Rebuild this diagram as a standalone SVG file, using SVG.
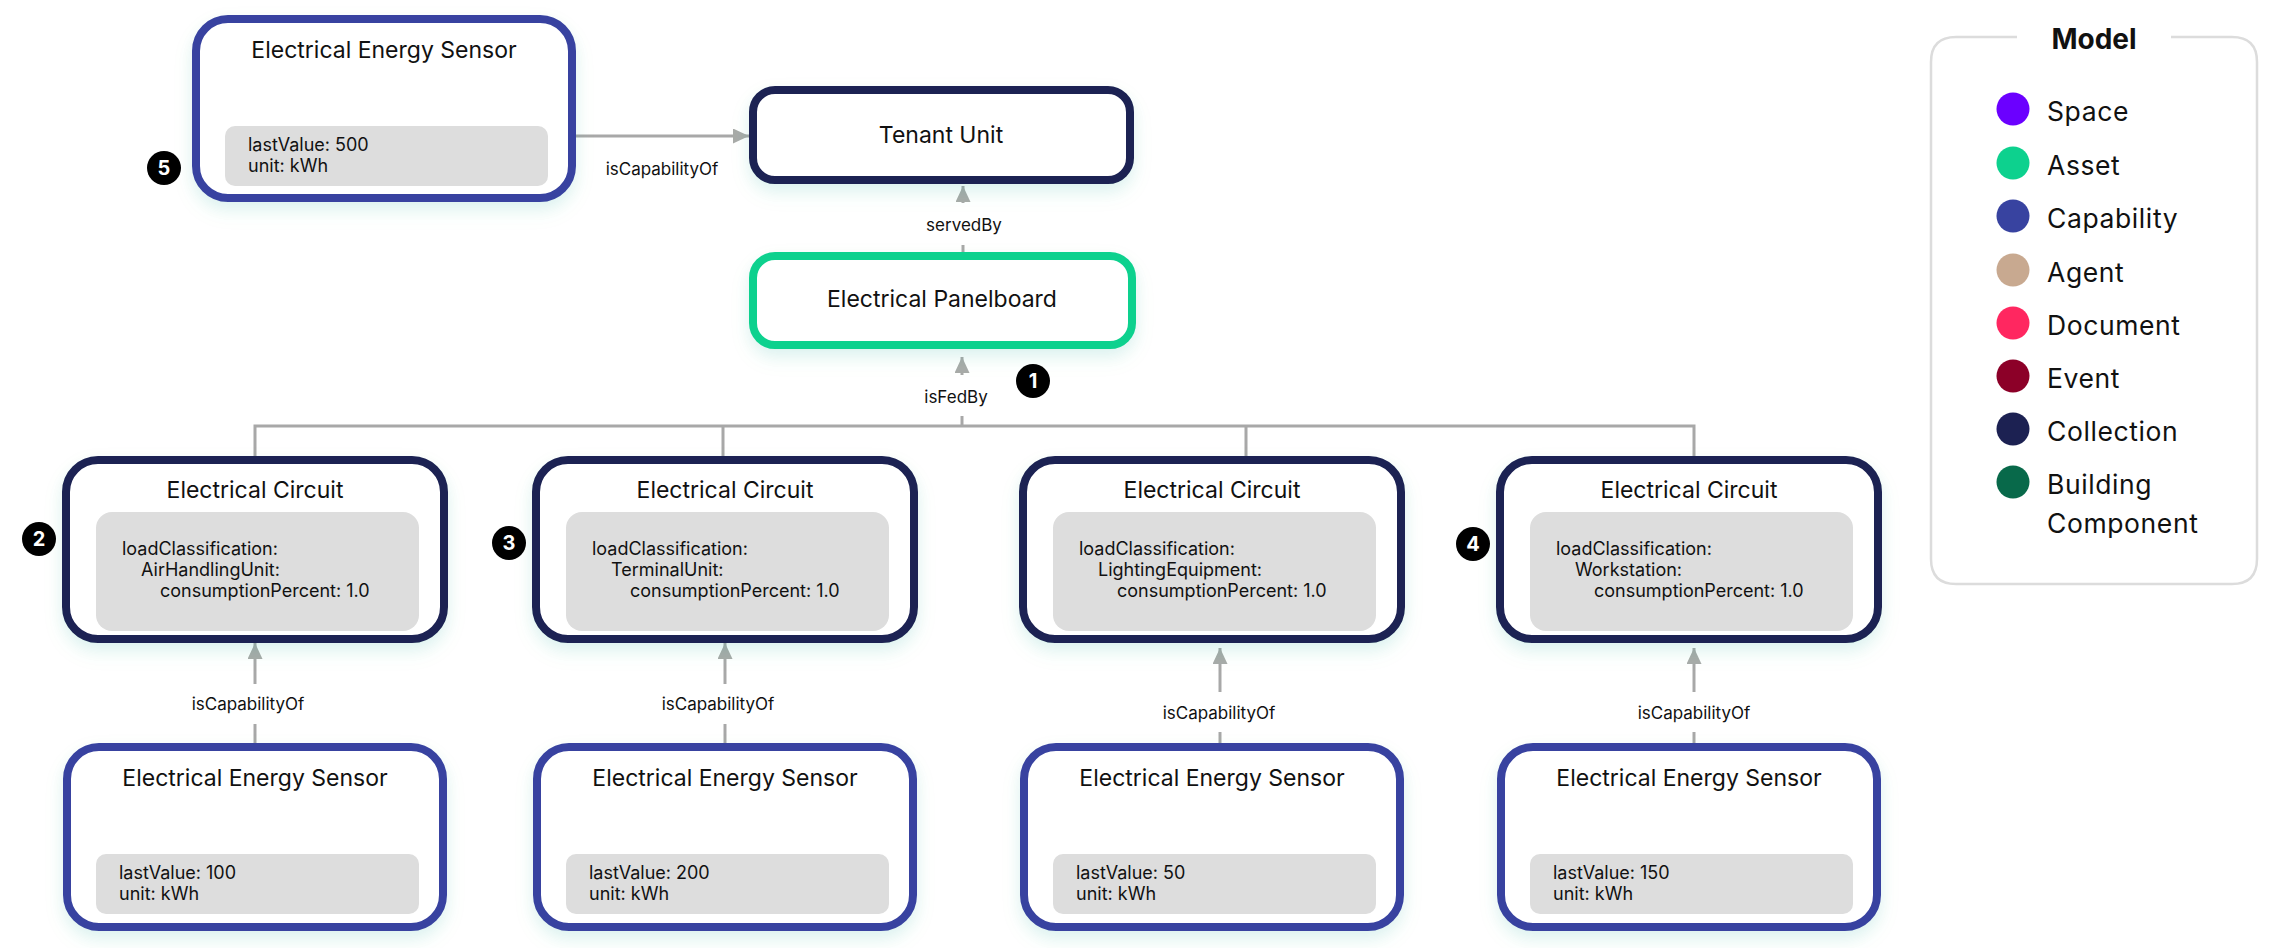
<svg xmlns="http://www.w3.org/2000/svg" width="2269" height="948" viewBox="0 0 2269 948">
<defs>
<style>
text{font-family:Inter,"Liberation Sans",sans-serif;fill:#111}
.box{fill:#fff;stroke-width:8}
.cap{stroke:#3843a0}
.col{stroke:#1c2152}
.asset{stroke:#0dd18e}
.prop{fill:#dddddd}
.title{font-size:23px;text-anchor:middle}
.ptxt{font-size:18px}
.edge{stroke:#a8a8a8;stroke-width:3;fill:none}
.lbl{font-size:17px;text-anchor:middle}
.lblbg{fill:#fff}
.badge circle{fill:#000}
.badge text{fill:#fff;font-size:20px;font-weight:700;text-anchor:middle}
.legtxt{font-size:26.5px;letter-spacing:0.6px}
</style>
<marker id="arr" markerUnits="userSpaceOnUse" markerWidth="16" markerHeight="15" refX="16" refY="7.5" orient="auto">
<path d="M0,0 L16,7.5 L0,15 z" fill="#a8aaa8"/>
</marker>
<filter id="sh" x="-20%" y="-20%" width="140%" height="170%">
<feDropShadow dx="0" dy="10" stdDeviation="10" flood-color="#0dd18e" flood-opacity="0.07"/>
<feDropShadow dx="0" dy="6" stdDeviation="8" flood-color="#3a4a90" flood-opacity="0.08"/>
</filter>
</defs>
<rect width="2269" height="948" fill="#fff"/>

<g id="connectors">
<line class="edge" x1="576" y1="136" x2="749" y2="136" marker-end="url(#arr)"/>
<text class="lbl" x="662" y="175">isCapabilityOf</text>

<line class="edge" x1="963" y1="252" x2="963" y2="186" marker-end="url(#arr)"/>
<rect class="lblbg" x="886" y="203" width="156" height="42"/>
<text class="lbl" x="964" y="231">servedBy</text>

<path class="edge" d="M255,456 V426 H1694 V456 M723,426 V456 M1246,426 V456"/>
<line class="edge" x1="962" y1="426" x2="962" y2="357" marker-end="url(#arr)"/>
<rect class="lblbg" x="905" y="375" width="105" height="41"/>
<text class="lbl" x="956" y="403">isFedBy</text>

<line class="edge" x1="255" y1="743" x2="255" y2="643" marker-end="url(#arr)"/>
<rect class="lblbg" x="185" y="684" width="126" height="40"/>
<text class="lbl" x="248" y="710">isCapabilityOf</text>

<line class="edge" x1="725" y1="743" x2="725" y2="643" marker-end="url(#arr)"/>
<rect class="lblbg" x="655" y="684" width="126" height="40"/>
<text class="lbl" x="718" y="710">isCapabilityOf</text>

<line class="edge" x1="1220" y1="743" x2="1220" y2="648" marker-end="url(#arr)"/>
<rect class="lblbg" x="1156" y="692" width="126" height="40"/>
<text class="lbl" x="1219" y="719">isCapabilityOf</text>

<line class="edge" x1="1694" y1="743" x2="1694" y2="648" marker-end="url(#arr)"/>
<rect class="lblbg" x="1631" y="692" width="126" height="40"/>
<text class="lbl" x="1694" y="719">isCapabilityOf</text>
</g>

<g id="sensor-top">
<rect class="box cap" x="196" y="19" width="376" height="179" rx="32" filter="url(#sh)"/>
<text class="title" x="384" y="58">Electrical Energy Sensor</text>
<rect class="prop" x="225" y="126" width="323" height="60" rx="10"/>
<text class="ptxt" x="248" y="151">lastValue: 500</text>
<text class="ptxt" x="248" y="172">unit: kWh</text>
</g>

<g id="tenant-unit">
<rect class="box col" x="753" y="90" width="377" height="90" rx="22" filter="url(#sh)"/>
<text class="title" x="941" y="143">Tenant Unit</text>
</g>

<g id="panelboard">
<rect class="box asset" x="753" y="256" width="379" height="89" rx="22" filter="url(#sh)"/>
<text class="title" x="942" y="307">Electrical Panelboard</text>
</g>

<g id="circuit-1">
<rect class="box col" x="66" y="460" width="378" height="179" rx="32" filter="url(#sh)"/>
<text class="title" x="255" y="498">Electrical Circuit</text>
<rect class="prop" x="96" y="512" width="323" height="119" rx="16"/>
<text class="ptxt" x="122" y="555">loadClassification:</text>
<text class="ptxt" x="141" y="576">AirHandlingUnit:</text>
<text class="ptxt" x="160" y="597">consumptionPercent: 1.0</text>
</g>

<g id="circuit-2">
<rect class="box col" x="536" y="460" width="378" height="179" rx="32" filter="url(#sh)"/>
<text class="title" x="725" y="498">Electrical Circuit</text>
<rect class="prop" x="566" y="512" width="323" height="119" rx="16"/>
<text class="ptxt" x="592" y="555">loadClassification:</text>
<text class="ptxt" x="611" y="576">TerminalUnit:</text>
<text class="ptxt" x="630" y="597">consumptionPercent: 1.0</text>
</g>

<g id="circuit-3">
<rect class="box col" x="1023" y="460" width="378" height="179" rx="32" filter="url(#sh)"/>
<text class="title" x="1212" y="498">Electrical Circuit</text>
<rect class="prop" x="1053" y="512" width="323" height="119" rx="16"/>
<text class="ptxt" x="1079" y="555">loadClassification:</text>
<text class="ptxt" x="1098" y="576">LightingEquipment:</text>
<text class="ptxt" x="1117" y="597">consumptionPercent: 1.0</text>
</g>

<g id="circuit-4">
<rect class="box col" x="1500" y="460" width="378" height="179" rx="32" filter="url(#sh)"/>
<text class="title" x="1689" y="498">Electrical Circuit</text>
<rect class="prop" x="1530" y="512" width="323" height="119" rx="16"/>
<text class="ptxt" x="1556" y="555">loadClassification:</text>
<text class="ptxt" x="1575" y="576">Workstation:</text>
<text class="ptxt" x="1594" y="597">consumptionPercent: 1.0</text>
</g>

<g id="sensor-1">
<rect class="box cap" x="67" y="747" width="376" height="180" rx="32" filter="url(#sh)"/>
<text class="title" x="255" y="786">Electrical Energy Sensor</text>
<rect class="prop" x="96" y="854" width="323" height="60" rx="10"/>
<text class="ptxt" x="119" y="879">lastValue: 100</text>
<text class="ptxt" x="119" y="900">unit: kWh</text>
</g>

<g id="sensor-2">
<rect class="box cap" x="537" y="747" width="376" height="180" rx="32" filter="url(#sh)"/>
<text class="title" x="725" y="786">Electrical Energy Sensor</text>
<rect class="prop" x="566" y="854" width="323" height="60" rx="10"/>
<text class="ptxt" x="589" y="879">lastValue: 200</text>
<text class="ptxt" x="589" y="900">unit: kWh</text>
</g>

<g id="sensor-3">
<rect class="box cap" x="1024" y="747" width="376" height="180" rx="32" filter="url(#sh)"/>
<text class="title" x="1212" y="786">Electrical Energy Sensor</text>
<rect class="prop" x="1053" y="854" width="323" height="60" rx="10"/>
<text class="ptxt" x="1076" y="879">lastValue: 50</text>
<text class="ptxt" x="1076" y="900">unit: kWh</text>
</g>

<g id="sensor-4">
<rect class="box cap" x="1501" y="747" width="376" height="180" rx="32" filter="url(#sh)"/>
<text class="title" x="1689" y="786">Electrical Energy Sensor</text>
<rect class="prop" x="1530" y="854" width="323" height="60" rx="10"/>
<text class="ptxt" x="1553" y="879">lastValue: 150</text>
<text class="ptxt" x="1553" y="900">unit: kWh</text>
</g>

<g id="badges">
<g class="badge"><circle cx="1033" cy="381" r="17"/><text x="1033" y="388">1</text></g>
<g class="badge"><circle cx="39" cy="539" r="17"/><text x="39" y="546">2</text></g>
<g class="badge"><circle cx="509" cy="543" r="17"/><text x="509" y="550">3</text></g>
<g class="badge"><circle cx="1473" cy="544" r="17"/><text x="1473" y="551">4</text></g>
<g class="badge"><circle cx="164" cy="168" r="17"/><text x="164" y="175">5</text></g>
</g>

<g id="legend">
<path d="M2017,37 H1956 Q1931,37 1931,62 V559 Q1931,584 1956,584 H2232 Q2257,584 2257,559 V62 Q2257,37 2232,37 H2171" fill="none" stroke="#dcdcdc" stroke-width="2.5"/>
<text x="2094" y="49" font-size="28" font-weight="700" text-anchor="middle">Model</text>
<circle cx="2013" cy="109" r="16.5" fill="#6b00ff"/><text class="legtxt" x="2047" y="121">Space</text>
<circle cx="2013" cy="163" r="16.5" fill="#0dd18e"/><text class="legtxt" x="2047" y="175">Asset</text>
<circle cx="2013" cy="216" r="16.5" fill="#3843a0"/><text class="legtxt" x="2047" y="228">Capability</text>
<circle cx="2013" cy="270" r="16.5" fill="#c8a990"/><text class="legtxt" x="2047" y="282">Agent</text>
<circle cx="2013" cy="323" r="16.5" fill="#ff2760"/><text class="legtxt" x="2047" y="335">Document</text>
<circle cx="2013" cy="376" r="16.5" fill="#8c0028"/><text class="legtxt" x="2047" y="388">Event</text>
<circle cx="2013" cy="429" r="16.5" fill="#1c2152"/><text class="legtxt" x="2047" y="441">Collection</text>
<circle cx="2013" cy="482" r="16.5" fill="#08694a"/><text class="legtxt" x="2047" y="494">Building</text>
<text class="legtxt" x="2047" y="533">Component</text>
</g>
</svg>
